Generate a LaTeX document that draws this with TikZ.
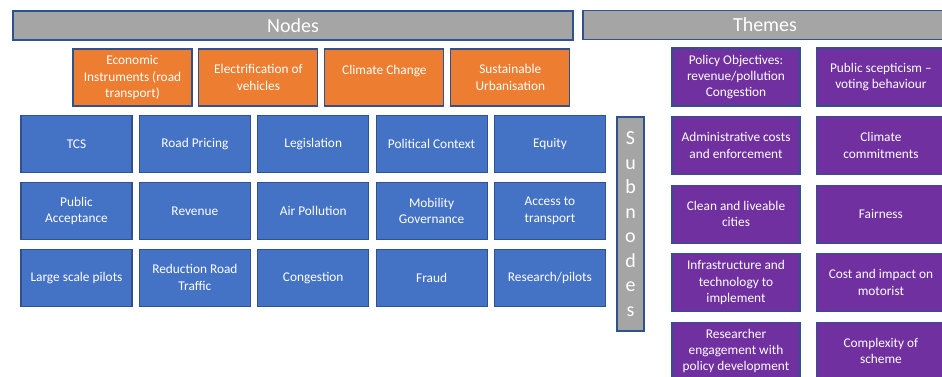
\documentclass[tikz,border=0pt]{standalone}
\usepackage{fontspec}
\setmainfont{Carlito}
\usepackage{tikz}
\definecolor{Box_Line}{HTML}{2F528F}
\definecolor{Head_Grey}{HTML}{A5A5A5}
\definecolor{Main_Orange}{HTML}{ED7D31}
\definecolor{Sub_Blue}{HTML}{4472C4}
\definecolor{Theme_Purple}{HTML}{7030A0}
\tikzstyle{Header} = [rectangle, 
                      minimum height=21.75pt,
                      text centered,
                      draw=Box_Line, 
                      line width=0.8pt,
                      fill=Head_Grey,
                      text=white,
                      font=\fontsize{15}{18.3}\selectfont]
\tikzstyle{Main_Node} = [rectangle, 
                         minimum width=89.25pt, 
                         minimum height=42.75pt,
                         inner sep=2pt,
                         align=center, 
                         draw=Box_Line, 
                         line width=0.8pt,
                         fill=Main_Orange,
                         text=white,
                         font=\fontsize{10}{12.2}\selectfont]
\tikzstyle{Sub_Node} = [Main_Node, 
                        minimum width=83.25pt, 
                        fill=Sub_Blue]
\tikzstyle{Theme} = [Main_Node, 
                     minimum width=96pt, 
                     minimum height=43.5pt,
                     fill=Theme_Purple]
\tikzstyle{Sub_Bar} = [rectangle, 
                       minimum width=20.25pt, 
                       minimum height=160.5pt,
                       inner sep=0pt,
                       align=center, 
                       draw=Box_Line, 
                       line width=0.8pt,
                       fill=Head_Grey,
                       text=white,
                       font=\fontsize{15}{18.4}\selectfont]

\begin{document}
\begin{tikzpicture}[x=0.75pt, y=-0.75pt]
        \useasboundingbox (0,0) rectangle (942,376);

        \node (Nodes_H) [Header, minimum width=420pt] at (293,25.5) {Nodes};
        \node (Themes_H) [Header, minimum width=273pt] at (765,25) {Themes};

        \node (N1) [Main_Node] at (132.5,77.5) {Economic\\Instruments (road\\transport)};
        \node (N2) [Main_Node, right of=N1, xshift=2.32cm] {Electrification of\\vehicles};
        \node (N3) [Main_Node, right of=N2, xshift=2.32cm] {Climate Change\\ \mbox{}};
        \node (N4) [Main_Node, right of=N3, xshift=2.32cm] {Sustainable\\Urbanisation};

        \node (S1_C1) [Sub_Node] at (76.5,144) {TCS};
        \node (S1_C2) [Sub_Node, right of=S1_C1, xshift=2.12cm] {Road Pricing};
        \node (S1_C3) [Sub_Node, right of=S1_C2, xshift=2.12cm] {Legislation};
        \node (S1_C4) [Sub_Node, right of=S1_C3, xshift=2.12cm] {Political Context};
        \node (S1_C5) [Sub_Node, right of=S1_C4, xshift=2.12cm] {Equity};

        \node (S2_C1) [Sub_Node, below of=S1_C1, yshift=-0.76cm] {Public\\Acceptance};
        \node (S2_C2) [Sub_Node, right of=S2_C1, xshift=2.12cm] {Revenue};
        \node (S2_C3) [Sub_Node, right of=S2_C2, xshift=2.12cm] {Air Pollution};
        \node (S2_C4) [Sub_Node, right of=S2_C3, xshift=2.12cm] {Mobility\\Governance};
        \node (S2_C5) [Sub_Node, right of=S2_C4, xshift=2.12cm] {Access to\\transport};

        \node (S3_C1) [Sub_Node, below of=S2_C1, yshift=-0.76cm] {Large scale pilots};
        \node (S3_C2) [Sub_Node, right of=S3_C1, xshift=2.12cm] {Reduction Road\\Traffic};
        \node (S3_C3) [Sub_Node, right of=S3_C2, xshift=2.12cm] {Congestion};
        \node (S3_C4) [Sub_Node, right of=S3_C3, xshift=2.12cm] {Fraud};
        \node (S3_C5) [Sub_Node, right of=S3_C4, xshift=2.12cm] {Research/pilots};

        \node (Subnodes) [Sub_Bar] at (630.5,224) {S\\u\\b\\n\\o\\d\\e\\s};

        \node (T1_L) [Theme] at (736,77) {Policy Objectives:\\revenue/pollution\\Congestion};
        \node (T2_L) [Theme, below of=T1_L, yshift=-0.806cm] {Administrative costs\\and enforcement};
        \node (T3_L) [Theme, below of=T2_L, yshift=-0.806cm] {Clean and liveable\\cities};
        \node (T4_L) [Theme, below of=T3_L, yshift=-0.806cm] {Infrastructure and\\technology to\\implement};
        \node (T5_L) [Theme, below of=T4_L, yshift=-0.806cm] {Researcher\\engagement with\\policy development};

        \node (T1_R) [Theme, right of=T1_L, xshift=2.82cm] {Public scepticism --\\voting behaviour};
        \node (T2_R) [Theme, right of=T2_L, xshift=2.82cm] {Climate\\commitments};
        \node (T3_R) [Theme, right of=T3_L, xshift=2.82cm] {Fairness};
        \node (T4_R) [Theme, right of=T4_L, xshift=2.82cm] {Cost and impact on\\motorist};
        \node (T5_R) [Theme, right of=T5_L, xshift=2.82cm] {Complexity of\\scheme};
    \end{tikzpicture}
\end{document}
